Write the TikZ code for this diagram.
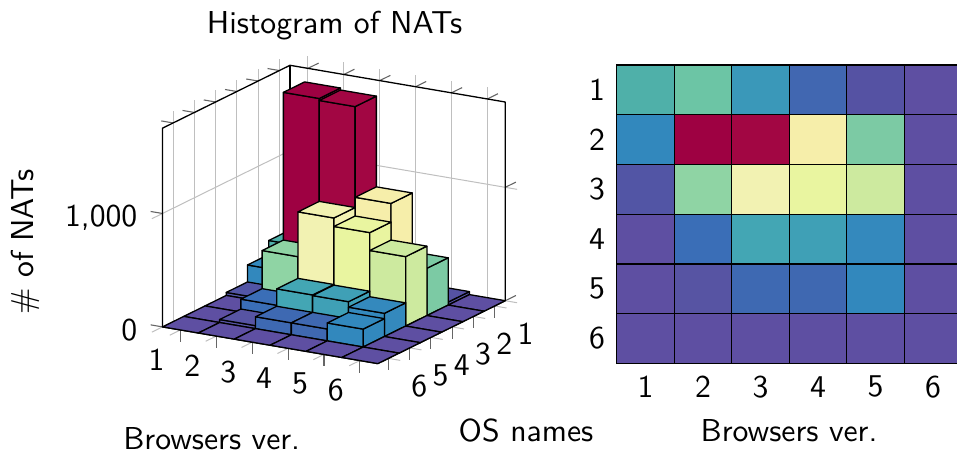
\documentclass[tikz,border=0pt]{standalone}
\usepackage{tikz}
\usepackage{graphicx}

% cell colours (row = OS, column = browser version), Spectral scale
\definecolor{c11}{HTML}{4FB0A9}\definecolor{c12}{HTML}{6CC5A5}\definecolor{c13}{HTML}{3A98B9}
\definecolor{c14}{HTML}{4167B1}\definecolor{c15}{HTML}{5552A3}\definecolor{c16}{HTML}{5E4FA2}
\definecolor{c21}{HTML}{3288BD}\definecolor{c22}{HTML}{9E0142}\definecolor{c23}{HTML}{A20643}
\definecolor{c24}{HTML}{F6EEAA}\definecolor{c25}{HTML}{7CCAA4}\definecolor{c26}{HTML}{5E4FA2}
\definecolor{c31}{HTML}{5255A5}\definecolor{c32}{HTML}{8FD4A4}\definecolor{c33}{HTML}{F2F2B2}
\definecolor{c34}{HTML}{E9F5A0}\definecolor{c35}{HTML}{CDEA9F}\definecolor{c36}{HTML}{5E4FA2}
\definecolor{c41}{HTML}{5E4FA2}\definecolor{c42}{HTML}{3A6EB7}\definecolor{c43}{HTML}{43A6B4}
\definecolor{c44}{HTML}{3FA0B6}\definecolor{c45}{HTML}{3489BD}\definecolor{c46}{HTML}{5E4FA2}
\definecolor{c51}{HTML}{5E4FA2}\definecolor{c52}{HTML}{5754A3}\definecolor{c53}{HTML}{3E69B2}
\definecolor{c54}{HTML}{3F68B1}\definecolor{c55}{HTML}{3288BD}\definecolor{c56}{HTML}{5E4FA2}
\definecolor{c61}{HTML}{5E4FA2}\definecolor{c62}{HTML}{5E4FA2}\definecolor{c63}{HTML}{5E4FA2}
\definecolor{c64}{HTML}{5E4FA2}\definecolor{c65}{HTML}{5E4FA2}\definecolor{c66}{HTML}{5E4FA2}

\def\boxtop{198.7}  % height of the 3D box (maximum count)
\def\zk{113.4}      % height of the 1,000 level
% 10pt sans text, enlarged to the drawing's scale
\newcommand\lbltext[1]{\scalebox{3.17}{#1}}

\begin{document}
\begin{tikzpicture}[x=1pt,y=-1pt,
  font={\fontsize{10}{12}\selectfont\sffamily},
  gridline/.style={draw=black!25,line width=1pt},
  tickmark/.style={draw=black!60,line width=1.1pt},
  axisline/.style={draw=black,line width=1.3pt,line join=round},
  barface/.style={draw=black,line width=1.3pt,line join=round},
  cell/.style={draw=black,line width=1.3pt},
  lbl/.style={inner sep=0pt}]
\useasboundingbox (0,0) rectangle (957,455);

% ---------------- 3D histogram ----------------
\begin{scope}[shift={(282.685pt,-255.7pt)},
  x={(35.88pt,-6.12pt)},y={(-21.25pt,-10.48pt)},z={(0pt,1pt)}]
  % wall grid
  \foreach \b in {1,...,6}{
    \draw[gridline] (\b,0.5,0) -- (\b,0.5,\boxtop+12);
    \draw[tickmark] (\b,0.5,\boxtop) -- (\b,0,\boxtop);
    \draw[gridline] (\b,6.5,0) -- (\b,7,0);
    \draw[tickmark] (\b,6.5,0) -- (\b,6.5,-12);
  }
  \foreach \o in {1,...,6}{
    \draw[gridline] (0.5,\o,0) -- (0.5,\o,\boxtop+12);
    \draw[tickmark] (0.5,\o,\boxtop) -- (0.17,\o,\boxtop);
    \draw[gridline] (6.5,\o,0) -- (6.83,\o,0);
    \draw[tickmark] (6.5,\o,0) -- (6.5,\o,-12);
  }
  \foreach \z in {0,\zk}{
    \draw[gridline] (0.5,7,\z) -- (0.5,0.5,\z) -- (6.83,0.5,\z);
    \draw[tickmark] (0.5,6.5,\z) -- (0.17,6.5,\z);
    \draw[tickmark] (6.5,0.5,\z) -- (6.5,0,\z);
  }
  % box
  \draw[axisline] (0.5,6.5,0) -- (0.5,6.5,\boxtop) -- (0.5,0.5,\boxtop)
    -- (6.5,0.5,\boxtop) -- (6.5,0.5,0);
  \draw[axisline] (0.5,0.5,0) -- (0.5,0.5,\boxtop);
  % bars, back to front
  \foreach \o/\b/\h in {
    1/1/34,1/2/41.7,1/3/22.9,1/4/10.9,1/5/3,1/6/0,
    2/1/20,2/2/198.7,2/3/196.7,2/4/106,2/5/47.3,2/6/0,
    3/1/3,3/2/51,3/3/95.8,3/4/87.3,3/5/69.4,3/6/0,
    4/1/0,4/2/12.9,4/3/29.3,4/4/28.7,4/5/23.2,4/6/0,
    5/1/0,5/2/3,5/3/11.9,5/4/11.9,5/5/17.9,5/6/0,
    6/1/0,6/2/0,6/3/0,6/4/0,6/5/0,6/6/0}{
    \filldraw[barface,fill=c\o\b] (\b-0.5,\o+0.5,0) -- (\b+0.5,\o+0.5,0)
      -- (\b+0.5,\o+0.5,\h) -- (\b-0.5,\o+0.5,\h) -- cycle;
    \filldraw[barface,fill=c\o\b] (\b+0.5,\o-0.5,0) -- (\b+0.5,\o+0.5,0)
      -- (\b+0.5,\o+0.5,\h) -- (\b+0.5,\o-0.5,\h) -- cycle;
    \filldraw[barface,fill=c\o\b] (\b-0.5,\o-0.5,\h) -- (\b+0.5,\o-0.5,\h)
      -- (\b+0.5,\o+0.5,\h) -- (\b-0.5,\o+0.5,\h) -- cycle;
  }
  % tick labels
  \foreach \b in {1,...,6}
    \node[lbl,xshift=-24pt,yshift=-29.5pt] (bl\b) at (\b,6.5,0) {\lbltext{\b}};
  \foreach \o in {1,...,6}
    \node[lbl,xshift=31pt,yshift=-27.5pt] (ol\o) at (6.5,\o,0) {\lbltext{\o}};
\end{scope}

\node[lbl,anchor=base east] (zl0) at (137.5,340.3) {\lbltext{0}};
\node[lbl,anchor=base east] (zl1) at (137.5,226.9) {\lbltext{1,000}};
\node[lbl,anchor=base] (title) at (334.5,33.3) {\lbltext{Histogram of NATs}};
\node[lbl,anchor=base,rotate=90] (zlab) at (33.5,242) {\lbltext{\# of NATs}};
\node[lbl,anchor=base] (blab) at (211.7,449.3) {\lbltext{Browsers ver.}};
\node[lbl,anchor=base] (olab) at (526,441.7) {\lbltext{OS names}};

% ---------------- heat map ----------------
\foreach \r in {1,...,6}{
  \foreach \cc in {1,...,6}
    \filldraw[cell,fill=c\r\cc] (616.7+\cc*57.5-57.5,65+\r*49.72-49.72) rectangle ++(57.5,49.72);
  \node[lbl] (hr\r) at (597,65+\r*49.72-24.86) {\lbltext{\r}};
  \node[lbl] (hc\r) at (616.7+\r*57.5-28.75,386.7) {\lbltext{\r}};
}
\node[lbl,anchor=base] (hlab) at (789,441.7) {\lbltext{Browsers ver.}};
\end{tikzpicture}
\end{document}
